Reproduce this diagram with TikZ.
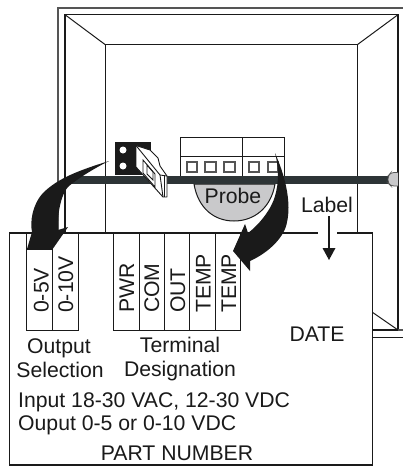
\documentclass[tikz,border=0pt]{standalone}
\usepackage{fontspec}
\setmainfont{Liberation Sans}
\definecolor{ink}{HTML}{1A1A1A}
\definecolor{framegray}{HTML}{555555}
\definecolor{bardark}{HTML}{2D3436}
\definecolor{probegray}{HTML}{C9C9CB}
\tikzset{
  frameline/.style={draw=ink,line width=1pt},
  graybox/.style={draw=framegray,line width=1.2pt},
  strip/.style={draw=ink,line width=1pt},
  boxlabel/.style={font=\fontsize{21.2}{23}\selectfont,text=ink,inner sep=0pt},
  striplabel/.style={boxlabel,rotate=90,anchor=base west},
  bigarrow/.style={fill=ink,draw=none},
}
\begin{document}
\begin{tikzpicture}[x=1pt,y=-1pt]
\useasboundingbox (0,0) rectangle (403,466);
% housing
\draw[graybox] (58,233) -- (58,8) -- (403,8);
\draw[frameline,line width=1.2pt] (65,233) -- (65,14.7) -- (398,14.7) -- (398,330) -- (372,330);
\draw[graybox] (398,330) -- (403,330);
\draw[frameline] (372,337) -- (403,337);
\draw[frameline] (105.3,233) -- (105.3,44.7) -- (357.3,44.7) -- (357.3,233);
\draw[frameline] (65,14.7) -- (105.3,44.7);
\draw[frameline] (398,14.7) -- (357.3,44.7);
\draw[frameline] (372,312) -- (398,330);
% terminal block
\draw[frameline] (180.5,176) -- (180.5,137.5) -- (284,137.5) -- (284,176);
\draw[frameline] (180.5,156.5) -- (284,156.5);
\draw[frameline] (242,137.5) -- (242,176);
\foreach \xa/\xb in {187/197,205/216,224/235,249/259,268/278}
  \draw[graybox,line width=1.1pt] (\xa,162) rectangle (\xb,172);
% probe
\draw[frameline,fill=probegray] (194,184) .. controls (198,208) and (214,221) .. (234,221) .. controls (254,221) and (271,208) .. (275,184) -- cycle;
% rod
\fill[bardark] (68,176) rectangle (390,184);
\draw[framegray,fill=probegray,line width=0.8pt,rounded corners=3pt] (398,172.5) -- (391,172.5) -- (388,176) -- (388,183) -- (391,186) -- (398,186);
\node[boxlabel,anchor=base] (probe) at (233,203) {Probe};
% jumper
\fill[ink] (115,142) rectangle (151,175);
\fill[white] (123,150) circle (3.5);
\fill[white] (123,166) circle (3.5);
\draw[ink,fill=white,line width=0.9pt,line join=round] (136,145.5) -- (150,150) -- (158,158) -- (160,166) -- (167,176) -- (167,197) -- (163,197) -- (136,167) -- cycle;
\draw[ink,line width=0.9pt] (136,145.5) -- (160,175) -- (163,197);
\draw[ink,line width=0.9pt] (160,175) -- (167,176);
\draw[ink,line width=0.9pt] (143,160) -- (155,174) -- (155,187) -- (143,173) -- cycle;
\draw[ink,line width=0.9pt] (147,165) -- (153,172) -- (153,180) -- (147,174) -- cycle;
\draw[ink,line width=0.8pt] (164.5,176) -- (164.5,197);
% label plate
\draw[frameline,line width=1.2pt,fill=white] (9.5,233) rectangle (372.5,465);
\draw[white,line width=2.4pt] (318,233) -- (337,233);
\foreach \xa/\xb in {26.5/52,52/78,113.5/139,139/164,164/189.5,189.5/215,215/240.5}
  \draw[strip] (\xa,233) rectangle (\xb,330);
\draw[strip] (26.5,249.5) -- (52,249.5);
\node[striplabel] (s1) at (48.5,313) {0-5V};
\node[striplabel] (s2) at (73,313) {0-10V};
\node[striplabel] (t1) at (134,313) {PWR};
\node[striplabel] (t2) at (159,313) {COM};
\node[striplabel] (t3) at (185,313) {OUT};
\node[striplabel] (t4) at (210.5,313) {TEMP};
\node[striplabel] (t5) at (236,313) {TEMP};
\node[boxlabel,anchor=base] (l1) at (59,353.7) {Output};
\node[boxlabel,anchor=base] (l2) at (60,377.7) {Selection};
\node[boxlabel,anchor=base] (l3) at (180,352.7) {Terminal};
\node[boxlabel,anchor=base] (l4) at (180,376) {Designation};
\node[boxlabel,anchor=base west] (l5) at (18,407) {Input 18-30 VAC, 12-30 VDC};
\node[boxlabel,anchor=base west] (l6) at (18,430) {Ouput 0-5 or 0-10 VDC};
\node[boxlabel,anchor=base] (l7) at (177,460) {PART NUMBER};
\node[boxlabel,anchor=base] (l8) at (317,341.7) {DATE};
\node[boxlabel,anchor=base] (lab) at (327,212.7) {Label};
% label pointer
\coordinate (ptip) at (329,260);
\draw[ink,line width=1.3pt] (329,216) -- (329,250);
\fill[ink] (322.5,248) -- (335.5,248) -- (ptip) -- cycle;
% curved arrows
\fill[bigarrow] (109,161) .. controls (80,170) and (58,178) .. (43,193)
  .. controls (32,205) and (30,222) .. (32,232) -- (27,249) -- (52,250) -- (68,227) -- (58,230)
  .. controls (57,212) and (62,192) .. (69,186) .. controls (80,177) and (95,168) .. (109,161) -- cycle;
\fill[bigarrow] (275,153) .. controls (287,180) and (291,205) .. (287,222)
  .. controls (285,236) and (270,252) .. (250,261) -- (250,271) -- (233,251) -- (245,224) -- (248,233)
  .. controls (260,224) and (272,208) .. (275,196) .. controls (279,182) and (279,168) .. (275,153) -- cycle;
\end{tikzpicture}
\end{document}
